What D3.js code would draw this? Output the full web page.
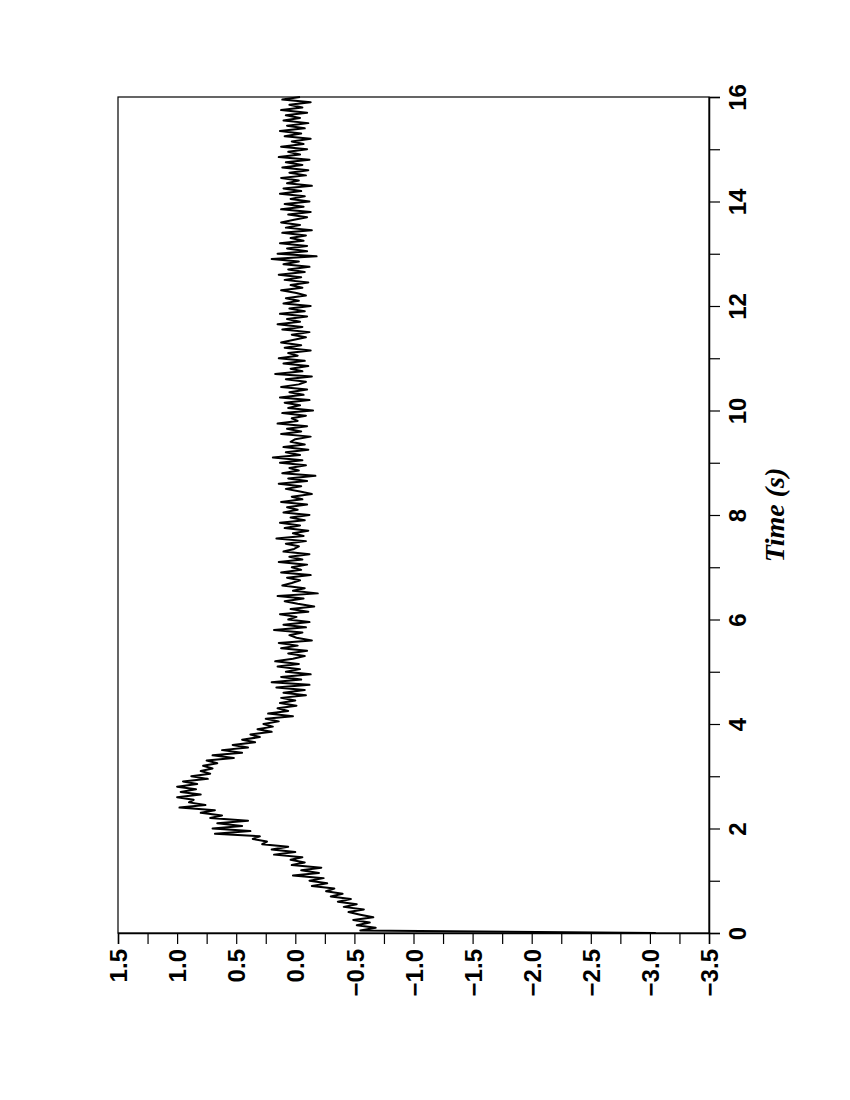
<!DOCTYPE html>
<html>
<head>
<meta charset="utf-8">
<script src="https://cdn.jsdelivr.net/npm/d3@7"></script>
<style>
  body { margin: 0; background: #fff; }
  svg { display: block; }
  .tick text { font-family: "Liberation Sans", Arial, sans-serif; font-weight: bold; font-size: 24px; fill: #000; }
</style>
</head>
<body>
<svg id="chart" width="850" height="1100"></svg>
<script>
// time axis (vertical, right side) and value axis (horizontal, bottom)
const timeTicks = [0, 2, 4, 6, 8, 10, 12, 14, 16];
const valueTicks = [1.5, 1.0, 0.5, 0.0, -0.5, -1.0, -1.5, -2.0, -2.5, -3.0, -3.5];
const dt = 0.05; // sample step, seconds

// signal, one row per second
const signal = [
  -3.05, -0.55, -0.68, -0.52, -0.63, -0.49, -0.66, -0.55, -0.45, -0.58, -0.41, -0.52, -0.36, -0.47, -0.30, -0.40, -0.26, -0.33, -0.14, -0.27,
  -0.12, -0.24, 0.02, -0.20, -0.05, -0.22, 0.03, -0.08, 0.04, -0.06, 0.18, 0.00, 0.20, 0.06, 0.28, 0.24, 0.36, 0.30, 0.68, 0.38,
  0.70, 0.45, 0.66, 0.40, 0.72, 0.62, 0.80, 0.68, 0.98, 0.76, 0.90, 0.86, 1.00, 0.80, 0.97, 0.84, 1.00, 0.83, 0.95, 0.74,
  0.88, 0.72, 0.80, 0.70, 0.78, 0.66, 0.75, 0.52, 0.70, 0.45, 0.62, 0.40, 0.53, 0.34, 0.45, 0.30, 0.38, 0.20, 0.32, 0.19,
  0.27, 0.14, 0.25, 0.02, 0.23, 0.06, 0.15, -0.01, 0.13, 0.00, 0.12, -0.09, 0.10, -0.08, 0.16, -0.12, 0.20, -0.05, 0.12, -0.13,
  0.08, -0.04, 0.15, -0.03, 0.17, 0.02, -0.08, 0.06, -0.10, 0.12, -0.02, 0.14, -0.14, -0.01, 0.05, -0.06, 0.18, -0.09, 0.10, -0.12,
  0.06, -0.01, 0.13, -0.11, 0.04, -0.16, -0.02, 0.09, -0.07, 0.15, -0.19, 0.02, -0.08, 0.11, 0.03, -0.04, 0.07, -0.13, 0.12, -0.05,
  0.03, -0.10, 0.14, -0.06, 0.05, -0.12, 0.10, 0.01, -0.03, 0.08, -0.09, 0.16, -0.07, 0.02, -0.11, 0.09, -0.04, 0.13, -0.08, 0.04,
  -0.12, 0.10, -0.02, 0.07, -0.10, 0.12, -0.06, 0.03, -0.14, -0.04, 0.08, -0.05, 0.14, -0.10, 0.06, -0.17, 0.11, -0.03, 0.05, -0.09,
  0.13, -0.06, 0.19, -0.04, 0.08, -0.11, 0.10, -0.08, 0.04, 0.00, -0.13, 0.12, -0.05, 0.07, -0.10, 0.15, -0.02, 0.03, -0.09, 0.11,
  -0.15, 0.06, -0.04, 0.09, -0.12, 0.13, -0.07, 0.05, -0.10, 0.12, -0.03, -0.09, 0.08, -0.14, 0.17, -0.06, 0.04, -0.11, 0.10, -0.08,
  0.14, -0.02, 0.06, -0.13, 0.09, -0.05, 0.12, 0.02, -0.09, 0.03, -0.12, 0.11, -0.06, 0.15, -0.04, 0.07, -0.10, 0.13, -0.08, 0.05,
  -0.13, 0.10, -0.03, 0.08, -0.09, -0.01, 0.12, -0.06, 0.04, -0.11, 0.09, -0.05, 0.14, -0.08, 0.06, -0.12, 0.10, -0.03, 0.20, -0.18,
  0.15, -0.10, 0.07, -0.10, 0.13, -0.07, 0.04, -0.09, 0.11, -0.14, 0.08, -0.04, 0.12, 0.01, -0.10, 0.06, -0.13, 0.12, -0.07, 0.09,
  -0.12, 0.04, -0.08, 0.13, -0.05, 0.10, -0.14, 0.07, -0.03, 0.12, -0.09, 0.05, -0.11, 0.11, -0.06, 0.08, -0.12, 0.14, -0.04, 0.06,
  -0.10, 0.12, -0.07, 0.03, -0.13, 0.09, -0.05, 0.13, -0.08, 0.07, -0.11, 0.10, -0.04, 0.08, -0.10, 0.12, -0.06, 0.05, -0.13, 0.11, -0.04
];

const box = {left: 118, right: 709, top: 97, bottom: 933};
const svg = d3.select('#chart');

// the figure is rotated: values run right-to-left, time runs upward
const x = d3.scaleLinear().domain([1.5, -3.5]).range([box.left, box.right]);
const y = d3.scaleLinear().domain([0, 16]).range([box.bottom, box.top]);

svg.append('rect')
    .attr('x', box.left).attr('y', box.top)
    .attr('width', box.right - box.left).attr('height', box.bottom - box.top)
    .attr('fill', 'none').attr('stroke', '#000').attr('stroke-width', 1.2);

// bottom (value) axis, ticks every 0.25, labels on the 0.5 steps
const valueAll = d3.range(0, 21).map(i => 1.5 - i * 0.25);
const fmtV = d3.format('.1f');
const xAxis = svg.append('g')
    .attr('transform', 'translate(0,' + box.bottom + ')')
    .call(d3.axisBottom(x)
      .tickValues(valueAll)
      .tickSize(11)
      .tickFormat(d => valueTicks.some(v => Math.abs(v - d) < 1e-9) ? fmtV(d) : ''));
xAxis.select('.domain').attr('stroke-width', 1.5);
xAxis.selectAll('.tick line').attr('stroke-width', 1.2);
xAxis.selectAll('.tick text')
    .attr('transform', 'rotate(-90)')
    .attr('x', -16).attr('y', 0).attr('dy', '0.36em')
    .attr('text-anchor', 'end');

// right (time) axis, minor ticks every 1 s
const timeAll = d3.range(0, 17);
const yAxis = svg.append('g')
    .attr('transform', 'translate(' + box.right + ',0)')
    .call(d3.axisRight(y)
      .tickValues(timeAll)
      .tickSize(11)
      .tickFormat(d => timeTicks.includes(d) ? d : ''));
yAxis.select('.domain').attr('stroke-width', 1.5);
yAxis.selectAll('.tick line').attr('stroke-width', 1.2);
yAxis.selectAll('.tick text')
    .attr('transform', 'rotate(-90)')
    .attr('x', 0).attr('y', 37).attr('dy', 0)
    .attr('text-anchor', 'middle');

svg.append('text')
    .attr('transform', 'translate(784,515) rotate(-90)')
    .attr('text-anchor', 'middle')
    .style('font-family', '"Liberation Serif", "Times New Roman", serif')
    .style('font-style', 'italic')
    .style('font-weight', 'bold')
    .style('font-size', '28px')
    .text('Time (s)');

const line = d3.line()
    .x(d => x(d))
    .y((d, i) => y(i * dt));

svg.append('path')
    .datum(signal)
    .attr('d', line)
    .attr('fill', 'none')
    .attr('stroke', '#000')
    .attr('stroke-width', 2)
    .attr('stroke-linejoin', 'round');
</script>
</body>
</html>
